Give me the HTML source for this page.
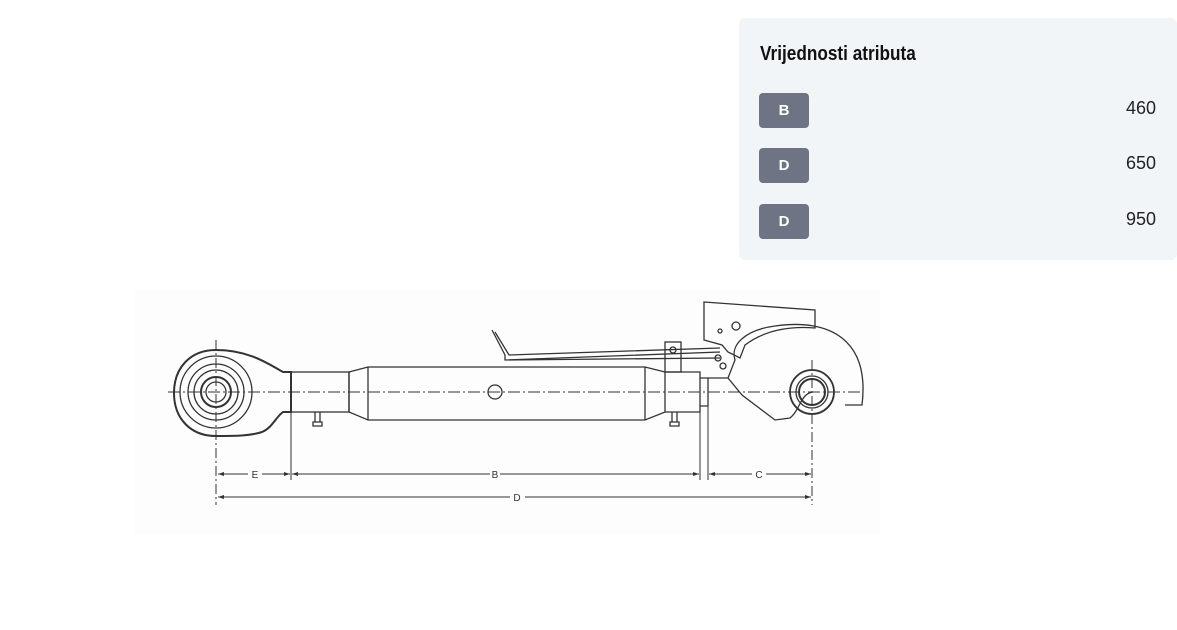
<!DOCTYPE html>
<html><head><meta charset="utf-8"><style>
body{margin:0;width:1177px;height:630px;background:#fff;position:relative;overflow:hidden;font-family:"Liberation Sans",sans-serif}
.panel{position:absolute;left:739px;top:18px;width:438px;height:242px;background:#f2f5f7;border-radius:6px}
.title{position:absolute;left:21px;top:25px;font-weight:bold;font-size:20px;color:#111;transform:scaleX(0.86);transform-origin:left}
.badge{position:absolute;left:20px;width:50px;height:35px;background:#6f7485;border-radius:4px;color:#fff;font-weight:bold;font-size:15px;text-align:center;line-height:35px}
.val{position:absolute;right:21px;font-size:18px;color:#222;line-height:35px}
</style></head><body>
<div class="panel">
<div class="title">Vrijednosti atributa</div>
<div class="badge" style="top:75px">B</div><div class="val" style="top:73px">460</div>
<div class="badge" style="top:130px">D</div><div class="val" style="top:128px">650</div>
<div class="badge" style="top:186px">D</div><div class="val" style="top:184px">950</div>
</div>
<svg width="1177" height="630" style="position:absolute;left:0;top:0" fill="none" stroke="#333" stroke-width="1.3">
<rect x="135" y="290" width="745" height="245" fill="#fdfdfd" stroke="none"/>
<line x1="168" y1="392" x2="862" y2="392" stroke-dasharray="12 3 2 3" stroke-width="1"/>
<path d="M216 350 C250 350 270 365 283 372 L291 372 L291 412 L283 412 C275 418 272 428 262 432 C250 436 235 436 216 436 C190 436 174 418 174 393 C174 368 190 350 216 350 Z" stroke-width="2"/>
<circle cx="216" cy="392" r="36"/><circle cx="216" cy="392" r="28"/><circle cx="216" cy="392" r="22"/><circle cx="216" cy="392" r="15" stroke-width="2"/><circle cx="216" cy="392" r="10"/>
<line x1="216" y1="340" x2="216" y2="505" stroke-dasharray="10 3 2 3" stroke-width="1"/>
<rect x="291" y="372" width="58" height="40"/>
<path d="M349 372 L368 367 L645 367 L665 372 L700 372 L700 412 L665 412 L645 420 L368 420 L349 412 Z"/>
<line x1="368" y1="367" x2="368" y2="420"/><line x1="645" y1="367" x2="645" y2="420"/><line x1="665" y1="372" x2="665" y2="412"/>
<circle cx="495" cy="392" r="7"/>
<path d="M700 378 L708 378 L708 406 L700 406"/>
<path d="M315 412 v10 M320 412 v10 M313 422 h9 v4 h-9z M672 412 v10 M677 412 v10 M670 422 h9 v4 h-9z"/>
<path d="M492 330 L505 355 L505 360 L720 352 M495 332 L509 355 L720 348 M505 360 L720 358"/>
<rect x="665" y="342" width="16" height="30"/><circle cx="673" cy="350" r="3"/>
<path d="M708 378 L728 378 L742 395 L775 420 L790 418 C800 410 800 395 812 392 M728 378 L735 360 C730 345 745 330 775 326 C830 318 870 340 862 405 L845 405"/>
<path d="M704 302 L815 310 L815 328 C790 326 765 330 745 345 L740 358 L728 352 L722 345 L704 340 Z"/>
<circle cx="736" cy="326" r="4"/><circle cx="720" cy="331" r="2"/>
<circle cx="718" cy="358" r="3"/><circle cx="723" cy="366" r="3"/>
<circle cx="812" cy="392" r="22" stroke-width="1.8"/><circle cx="812" cy="392" r="16"/><circle cx="812" cy="392" r="13" stroke-width="2"/>
<line x1="812" y1="360" x2="812" y2="505" stroke-dasharray="10 3 2 3" stroke-width="1"/>
<line x1="291" y1="412" x2="291" y2="480" stroke-width="1"/>
<line x1="700" y1="412" x2="700" y2="480" stroke-width="1"/>
<line x1="708" y1="406" x2="708" y2="480" stroke-width="1"/>
<g stroke-width="1">
<line x1="218" y1="474" x2="248" y2="474"/><line x1="262" y1="474" x2="290" y2="474"/>
<line x1="292" y1="474" x2="490" y2="474"/><line x1="500" y1="474" x2="699" y2="474"/>
<line x1="709" y1="474" x2="752" y2="474"/><line x1="766" y1="474" x2="811" y2="474"/>
<line x1="218" y1="497" x2="510" y2="497"/><line x1="525" y1="497" x2="811" y2="497"/>
</g>
<g fill="#333" stroke="none">
<path d="M218 474 l6 -2 v4z M290 474 l-6 -2 v4z M292 474 l6 -2 v4z M699 474 l-6 -2 v4z M709 474 l6 -2 v4z M811 474 l-6 -2 v4z M218 497 l6 -2 v4z M811 497 l-6 -2 v4z"/>
<text x="255" y="478" font-size="10" text-anchor="middle" font-family="Liberation Sans">E</text>
<text x="495" y="478" font-size="10" text-anchor="middle" font-family="Liberation Sans">B</text>
<text x="759" y="478" font-size="10" text-anchor="middle" font-family="Liberation Sans">C</text>
<text x="517" y="501" font-size="10" text-anchor="middle" font-family="Liberation Sans">D</text>
</g>
</svg>
</body></html>
